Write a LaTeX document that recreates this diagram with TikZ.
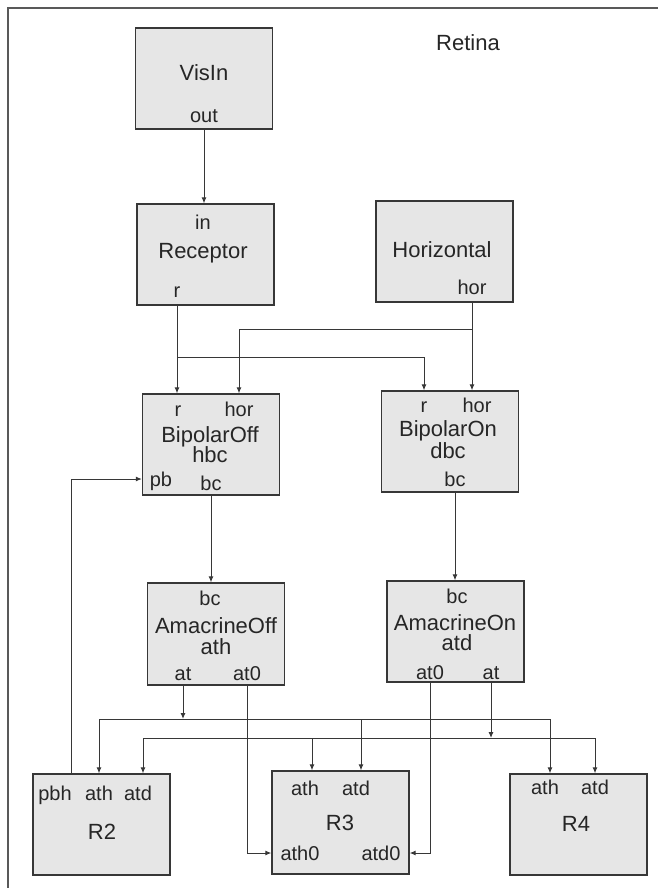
\documentclass[tikz,border=0pt]{standalone}
\usepackage{fontspec}
\setmainfont{Liberation Sans}
\usetikzlibrary{arrows.meta}
\definecolor{boxgray}{RGB}{230,230,230}
\definecolor{edgegray}{RGB}{55,55,55}

\begin{document}
\begin{tikzpicture}[x=1pt, y=-1pt,
    block/.style={draw=edgegray, line width=1.3pt, fill=boxgray, minimum width=137pt, minimum height=101pt, inner sep=0pt},
    title/.style={font=\fontsize{22}{22}\selectfont, text=black!85, inner sep=0pt, text height=15pt, text depth=0pt},
    port/.style={font=\fontsize{20}{20}\selectfont, text=black!85, inner sep=0pt, text height=14pt, text depth=0pt},
    wire/.style={draw=edgegray, line width=1pt},
    arr/.style={wire, -{Latex[length=6pt,width=5pt]}}]

    \useasboundingbox (0,0) rectangle (658,888);

    % Frame
    \draw[black!65, line width=2pt] (8,888) -- (8,8) -- (658,8);
    \node[title] (retina) at (468,43) {Retina};

    % Blocks
    \node[block] (visin) at (204,78.5) {};
    \node[block] (rcp) at (205.5,254.5) {};
    \node[block] (hrz) at (444.5,251.5) {};
    \node[block] (bpoff) at (211,444.5) {};
    \node[block] (bpon) at (450,441.5) {};
    \node[block, minimum height=102pt] (amoff) at (216,634) {};
    \node[block] (amon) at (455.5,631.5) {};
    \node[block] (rtwo) at (101.5,824.5) {};
    \node[block, minimum height=103pt] (rthree) at (340.5,822.5) {};
    \node[block] (rfour) at (578.5,824.5) {};

    % Labels
    \node[title] (vi-name) at (204,73) {VisIn};
    \node[port] (vi-out) at (204,115) {out};

    \node[port] (rc-in) at (203,222) {in};
    \node[title] (rc-name) at (203,251) {Receptor};
    \node[port] (rc-r) at (177,290) {r};

    \node[title] (hz-name) at (442,250) {Horizontal};
    \node[port] (hz-hor) at (472,287) {hor};

    \node[port] (bf-r) at (178,409) {r};
    \node[port] (bf-hor) at (239,409) {hor};
    \node[title] (bf-name) at (210,435) {BipolarOff};
    \node[title] (bf-hbc) at (210,455) {hbc};
    \node[port] (bf-pb) at (161,479) {pb};
    \node[port] (bf-bc) at (211,483) {bc};

    \node[port] (bn-r) at (424,405) {r};
    \node[port] (bn-hor) at (477,405) {hor};
    \node[title] (bn-name) at (448,429) {BipolarOn};
    \node[title] (bn-dbc) at (448,451) {dbc};
    \node[port] (bn-bc) at (455,479) {bc};

    \node[port] (ao-bc) at (210,598) {bc};
    \node[title] (ao-name) at (216,626) {AmacrineOff};
    \node[title] (ao-ath) at (216,647) {ath};
    \node[port] (ao-at) at (183,673) {at};
    \node[port] (ao-atz) at (247,673) {at0};

    \node[port] (an-bc) at (457,596) {bc};
    \node[title] (an-name) at (455,623) {AmacrineOn};
    \node[title] (an-atd) at (457,643) {atd};
    \node[port] (an-atz) at (430,672) {at0};
    \node[port] (an-at) at (491,672) {at};

    \node[port] (r2-pbh) at (55,793) {pbh};
    \node[port] (r2-ath) at (99,793) {ath};
    \node[port] (r2-atd) at (138,793) {atd};
    \node[title] (r2-name) at (102,832) {R2};

    \node[port] (r3-ath) at (305,788) {ath};
    \node[port] (r3-atd) at (356,788) {atd};
    \node[title] (r3-name) at (340,823) {R3};
    \node[port] (r3-athz) at (300,853) {ath0};
    \node[port] (r3-atdz) at (381,853) {atd0};

    \node[port] (r4-ath) at (545,787) {ath};
    \node[port] (r4-atd) at (595,787) {atd};
    \node[title] (r4-name) at (576,824) {R4};

    % Bus points
    \coordinate (hbus-a) at (99,719);
    \coordinate (hbus-b) at (361,719);
    \coordinate (hbus-c) at (550,719);
    \coordinate (dbus-a) at (143,738);
    \coordinate (dbus-b) at (312,738);
    \coordinate (dbus-c) at (595,738);
    \coordinate (pbtap) at (71,774);

    % Edges
    \draw[arr] (visin.south -| vi-out) -- (rcp.north -| vi-out);
    \draw[arr] (rcp.south -| rc-r) -- (bpoff.north -| rc-r);
    \draw[arr] (rc-r |- 0,357) -| (bpon.north -| bn-r);
    \draw[arr] (hrz.south -| hz-hor) -- (bpon.north -| hz-hor);
    \draw[arr] (hz-hor |- 0,329) -| (bpoff.north -| bf-hor);
    \draw[arr] (bpoff.south -| bf-bc) -- (amoff.north -| bf-bc);
    \draw[arr] (bpon.south -| bn-bc) -- (amon.north -| bn-bc);

    \draw[arr] (amoff.south -| ao-at) -- (ao-at |- hbus-a);
    \draw[wire] (hbus-a) -- (hbus-c);
    \draw[arr] (hbus-a) -- (rtwo.north -| hbus-a);
    \draw[arr] (hbus-b) -- (rthree.north -| hbus-b);
    \draw[arr] (hbus-c) -- (rfour.north -| hbus-c);

    \draw[arr] (amon.south -| an-at) -- (an-at |- dbus-a);
    \draw[wire] (dbus-a) -- (dbus-c);
    \draw[arr] (dbus-a) -- (rtwo.north -| dbus-a);
    \draw[arr] (dbus-b) -- (rthree.north -| dbus-b);
    \draw[arr] (dbus-c) -- (rfour.north -| dbus-c);

    \draw[arr] (amoff.south -| ao-atz) |- (rthree.west |- r3-athz);
    \draw[arr] (amon.south -| an-atz) |- (rthree.east |- r3-atdz);
    \draw[arr] (pbtap) |- (bpoff.west |- bf-pb);

\end{tikzpicture}
\end{document}
